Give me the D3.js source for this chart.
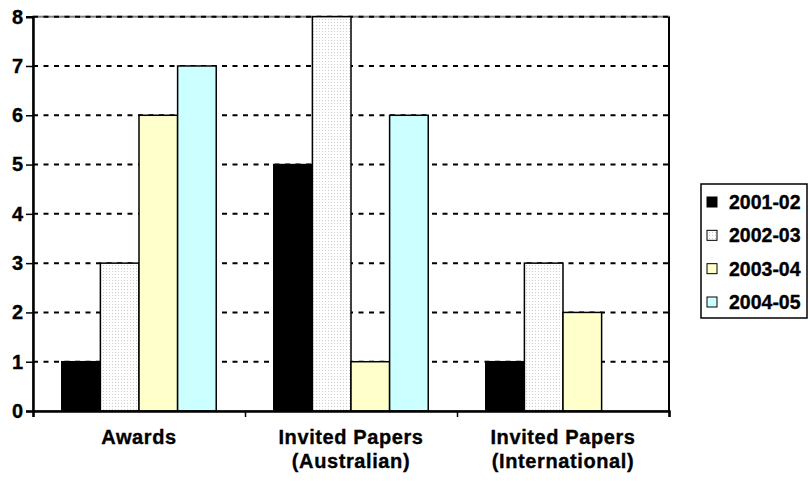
<!DOCTYPE html>
<html><head><meta charset="utf-8">
<script src="https://cdn.jsdelivr.net/npm/d3@7"></script>
<style>body{margin:0;background:#fff}svg{display:block}svg text{font-family:"Liberation Sans",Arial,sans-serif;font-weight:bold;fill:#000;stroke:#000;stroke-width:0.35px}</style>
</head><body><svg id="c" width="810" height="481"></svg>
<script>
const categories = [["Awards"], ["Invited Papers", "(Australian)"], ["Invited Papers", "(International)"]];
const seriesNames = ["2001-02", "2002-03", "2003-04", "2004-05"];
const values = {
  "2001-02": [1, 5, 1],
  "2002-03": [3, 8, 3],
  "2003-04": [6, 1, 2],
  "2004-05": [7, 6, 0]
};
const yTicks = [0, 1, 2, 3, 4, 5, 6, 7, 8];

const svg = d3.select("#c");
const defs = svg.append("defs");
const pat = defs.append("pattern").attr("id", "dots").attr("width", 3).attr("height", 3).attr("patternUnits", "userSpaceOnUse");
pat.append("rect").attr("width", 3).attr("height", 3).attr("fill", "#fff");
pat.append("rect").attr("x", 1).attr("y", 1).attr("width", 1).attr("height", 1).attr("fill", "#cccccc");
const fills = {"2001-02": "#000", "2002-03": "url(#dots)", "2003-04": "#FFFFCC", "2004-05": "#CCFFFF"};

const L = 33, R = 669, T = 16.7, B = 411;
const x0 = d3.scaleBand().domain(d3.range(categories.length)).range([L, R]).paddingInner(0).paddingOuter(0);
const x1 = d3.scaleBand().domain(seriesNames).range([0, x0.bandwidth()]).paddingInner(0).paddingOuter(0.745);
const y = d3.scaleLinear().domain([0, 8]).range([B, T]);

// plot border
svg.append("rect").attr("x", L).attr("y", T).attr("width", R - L).attr("height", B - T)
  .attr("fill", "none").attr("stroke", "#808080").attr("stroke-width", 2);
svg.append("line").attr("x1", R).attr("x2", R).attr("y1", T).attr("y2", B).attr("stroke", "#000").attr("stroke-width", 2);

// gridlines
svg.append("g").selectAll("line").data(yTicks.filter(d => d > 0)).join("line")
  .attr("x1", L).attr("x2", R).attr("y1", d => y(d)).attr("y2", d => y(d))
  .attr("stroke", "#000").attr("stroke-width", 2).attr("stroke-dasharray", "5,5.5");

// bars
const g = svg.append("g");
seriesNames.forEach(s => {
  g.selectAll(null).data(values[s].map((v, i) => ({i, v}))).join("rect")
    .attr("x", d => x0(d.i) + x1(s)).attr("width", x1.bandwidth())
    .attr("y", d => y(d.v)).attr("height", d => y(0) - y(d.v))
    .attr("fill", fills[s]).attr("stroke", d => d.v > 0 ? "#000" : "none").attr("stroke-width", 1.5);
});

// y axis
const ya = svg.append("g").attr("transform", `translate(${L},0)`)
  .call(d3.axisLeft(y).tickValues(yTicks).tickSize(7).tickPadding(3).tickFormat(d3.format("d")));
ya.attr("font-size", null).attr("font-family", null);
ya.select(".domain").attr("stroke-width", 2.5);
ya.selectAll(".tick line").attr("stroke-width", 1.5);
ya.selectAll("text").style("font-size", "20px");

// x axis
const xa = svg.append("g").attr("transform", `translate(0,${B})`)
  .call(d3.axisBottom(d3.scaleLinear().domain([0, 3]).range([L, R])).tickValues([0, 1, 2, 3]).tickSize(6).tickFormat(""));
xa.select(".domain").attr("stroke-width", 2.5);
xa.selectAll(".tick line").attr("stroke-width", 1.5);

// category labels
const cl = svg.append("g").selectAll("text").data(categories).join("text")
  .attr("x", (d, i) => x0(i) + x0.bandwidth() / 2).attr("y", 444)
  .attr("text-anchor", "middle").style("font-size", "20px").style("letter-spacing", "0.6px");
cl.selectAll("tspan").data(d => d).join("tspan")
  .attr("x", function() { return this.parentNode.getAttribute("x"); })
  .attr("dy", (d, i) => i === 0 ? 0 : 24).text(d => d);

// legend
const lg = svg.append("g");
lg.append("rect").attr("x", 701).attr("y", 184).attr("width", 106).attr("height", 134)
  .attr("fill", "#fff").attr("stroke", "#000").attr("stroke-width", 1.5);
const ly = d3.scalePoint().domain(seriesNames).range([202, 302]);
seriesNames.forEach(s => {
  lg.append("rect").attr("x", 707).attr("y", ly(s) - 5).attr("width", 10).attr("height", 10)
    .attr("fill", fills[s]).attr("stroke", "#000").attr("stroke-width", 1);
  lg.append("text").attr("x", 729).attr("y", ly(s) + 7).style("font-size", "19.5px").text(s);
});
</script></body></html>
